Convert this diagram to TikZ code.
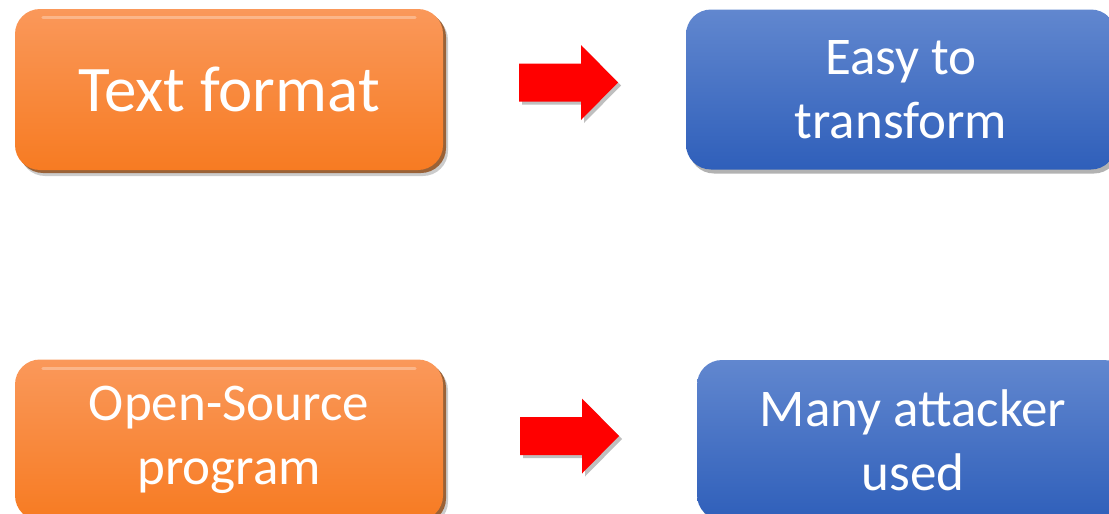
\documentclass[tikz,border=0pt]{standalone}
\usepackage{fontspec}
\setmainfont{Carlito}
\usetikzlibrary{shadows}

\definecolor{orangetop}{HTML}{FA985A}
\definecolor{orangebot}{HTML}{F77B22}
\definecolor{orangeedge}{HTML}{93501E}
\definecolor{bluetop}{HTML}{6187CF}
\definecolor{bluebot}{HTML}{2F5FBA}

\tikzset{
  cause/.style={rectangle, rounded corners=25pt, minimum width=428pt, minimum height=161pt,
    top color=orangetop, bottom color=orangebot, text=white, align=center,
    drop shadow={shadow xshift=5pt, shadow yshift=-6pt, fill=black, opacity=0.2},
    drop shadow={shadow xshift=3pt, shadow yshift=-3pt, fill=orangeedge, opacity=0.85}},
  gloss/.style={draw=white, opacity=0.3, line width=3pt, line cap=round},
  effect/.style={rectangle, rounded corners=25pt, minimum width=430pt, minimum height=160pt,
    top color=bluetop, bottom color=bluebot, text=white, align=center,
    drop shadow={shadow xshift=3pt, shadow yshift=-4pt, fill=black, opacity=0.3}},
  redarrow/.style={fill=red, drop shadow={shadow xshift=3pt, shadow yshift=-3pt, fill=black, opacity=0.25}},
  bigtext/.style={font=\fontsize{65}{78}\selectfont},
  midtext/.style={font=\fontsize{53}{64}\selectfont}
}

\begin{document}
\begin{tikzpicture}[x=1pt, y=-1pt]
    \useasboundingbox (0, 0) rectangle (1109, 514);

    \node[cause, bigtext] (textfmt) at (229, 89.5) {Text format};
    \node[effect, midtext] (easy) at (901, 89.5) {Easy to\\transform};

    \node[cause, midtext] (opensrc) at (229, 440) {Open-Source\\program};
    \node[effect, midtext, minimum width=432pt] (attackers) at (913, 440) {Many attacker\\used};

    % light line along the top of the orange boxes
    \foreach \b in {textfmt, opensrc}
      \path[gloss] ([xshift=28pt, yshift=-9pt]\b.north west) -- ([xshift=-28pt, yshift=-9pt]\b.north east);

    \coordinate (arrowA) at (519, 82.5);
    \coordinate (arrowB) at (520, 436);

    % block arrows between the boxes
    \foreach \a in {arrowA, arrowB} {
      \begin{scope}[shift=(\a)]
        \path[redarrow] (0, -19) -- (62, -19) -- (62, -37.5) -- (99, 0)
          -- (62, 37.5) -- (62, 19) -- (0, 19) -- cycle;
      \end{scope}
    }
\end{tikzpicture}
\end{document}
